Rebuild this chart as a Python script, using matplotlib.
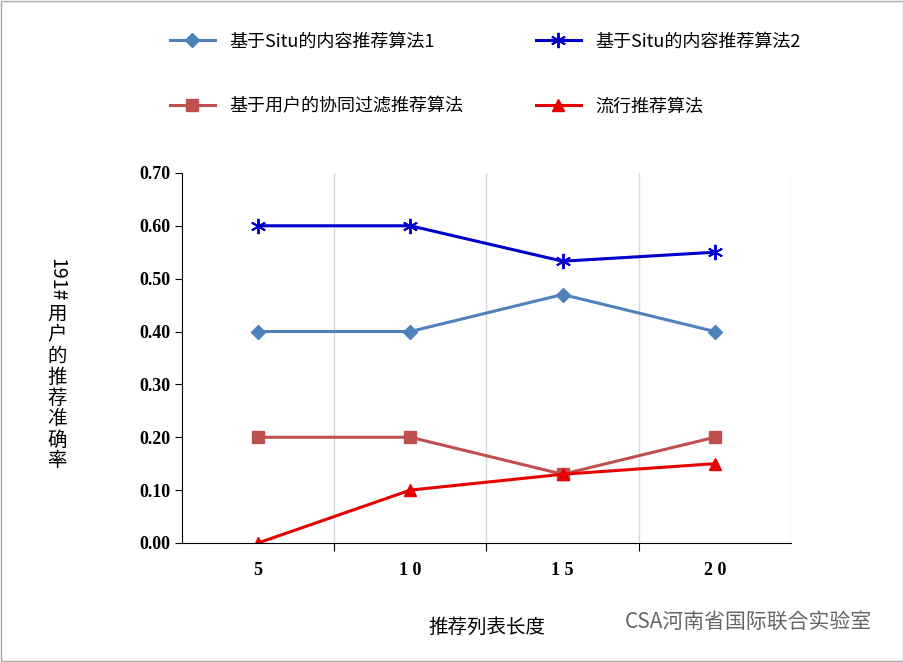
import matplotlib
matplotlib.use("Agg")
import matplotlib.pyplot as plt
from matplotlib.lines import Line2D
from matplotlib import font_manager

categories = ["5", "10", "15", "20"]
situ1 = [0.40, 0.40, 0.47, 0.40]
situ2 = [0.60, 0.60, 0.533, 0.55]
cf = [0.20, 0.20, 0.13, 0.20]
pop = [0.00, 0.10, 0.13, 0.15]
names = ["基于Situ的内容推荐算法1", "基于Situ的内容推荐算法2", "基于用户的协同过滤推荐算法", "流行推荐算法"]
yticks = [0.0, 0.1, 0.2, 0.3, 0.4, 0.5, 0.6, 0.7]

avail = {f.name for f in font_manager.fontManager.ttflist}
cands = [n for n in ["Noto Sans CJK SC", "Noto Sans CJK JP", "Noto Sans CJK TC", "Noto Sans CJK KR",
                     "Noto Sans SC", "Noto Serif CJK SC"] if n in avail]
if not cands:
    cands = [f.name for f in font_manager.fontManager.ttflist if "CJK" in f.name][:1]
cands = cands + ["DejaVu Sans"]
plt.rcParams["font.family"] = "sans-serif"
plt.rcParams["font.sans-serif"] = cands
serif = ["Liberation Serif", "DejaVu Serif"] + cands

ast = (6, 2, 0)
fig = plt.figure(figsize=(9.04, 6.62), dpi=100)
ax = fig.add_axes([0.2013, 0.1798, 0.6737, 0.559])
x = [i + 0.5 for i in range(len(categories))]
ax.plot(x, situ1, color="#4F81BD", marker="D", ms=7, lw=2.2)
ax.plot(x, situ2, color="#0000CC", marker=ast, ms=11, mew=1.4, lw=2.2)
ax.plot(x, cf, color="#C0504D", marker="s", ms=9, lw=2.2)
ax.plot(x, pop, color="#E60000", marker="^", ms=9, lw=2.2)
ax.set_xlim(0, 4)
ax.set_ylim(0, 0.7)
ax.set_yticks(yticks)
ax.set_yticklabels([f"{v:.2f}" for v in yticks], fontfamily=serif, fontweight="bold", fontsize=13)
ax.set_xticks([1, 2, 3])
ax.set_xticklabels([])
ax.set_xticks(x, minor=True)
ax.set_xticklabels([" ".join(c) for c in categories], minor=True, fontfamily=serif, fontweight="bold", fontsize=13)
ax.tick_params(axis="x", which="minor", length=0, pad=14)
ax.tick_params(axis="x", which="major", direction="out", length=6)
ax.tick_params(axis="y", direction="out", length=5)
for v in [1, 2, 3, 4]:
    ax.axvline(v, color="#D9D9D9", lw=1, zorder=0)
for s in ["top", "right"]:
    ax.spines[s].set_visible(False)
ax.set_xlabel("推荐列表长度", fontsize=14)
ax.xaxis.set_label_coords(0.5, -0.2)

ylab = "191#用户的推荐准确率"
lx = 57 / 904
fig.text(lx, 1 - 280 / 662, ylab[:4], fontsize=14, rotation=270, ha="center", va="center")
for i, ch in enumerate(ylab[4:]):
    fig.text(lx, 1 - (314 + i * 21) / 662, ch, fontsize=14, ha="center", va="center")

h1 = Line2D([], [], color="#4F81BD", marker="D", ms=7, lw=2.2)
h2 = Line2D([], [], color="#0000CC", marker=ast, ms=11, mew=1.4, lw=2.2)
h3 = Line2D([], [], color="#C0504D", marker="s", ms=9, lw=2.2)
h4 = Line2D([], [], color="#E60000", marker="^", ms=9, lw=2.2)
fig.legend([h1, h3, h2, h4], [names[0], names[2], names[1], names[3]], loc="upper left",
           bbox_to_anchor=(0.17, 0.975), ncol=2, frameon=False,
           prop={"size": 13}, columnspacing=4, labelspacing=2.6, handlelength=2.5)
fig.text(0.965, 0.06, "CSA河南省国际联合实验室", fontsize=15, color="#666666", ha="right", va="center")
fig.patches.append(plt.Rectangle((0.001, 0.001), 0.998, 0.998, transform=fig.transFigure,
                                 fill=False, edgecolor="#AAAAAA", lw=1))
fig.savefig("out.png", dpi=100)
